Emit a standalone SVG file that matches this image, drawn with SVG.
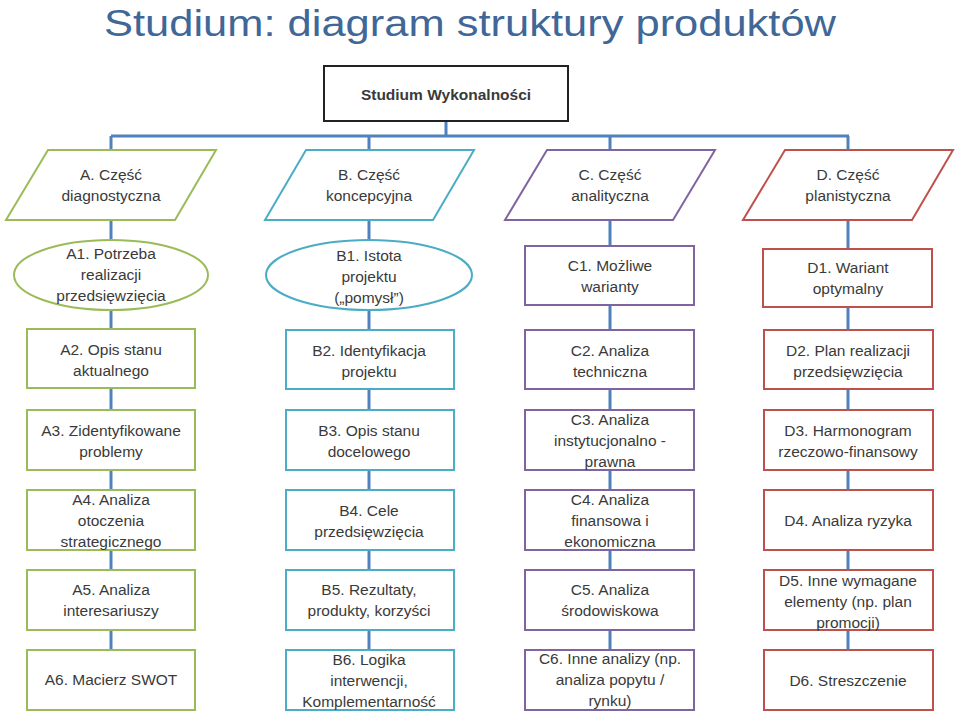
<svg xmlns="http://www.w3.org/2000/svg" width="960" height="716" viewBox="0 0 960 716">
<style>
text{font-family:"Liberation Sans",Arial,sans-serif;font-size:15.5px;fill:#3a3a3a;text-anchor:middle}
.t{font-size:37px;fill:#3f6797;text-anchor:start}
.n{fill:#fff;stroke-width:2}
.a{stroke:#9bbb59}.b{stroke:#4bacc6}.c{stroke:#8064a2}.d{stroke:#c0504d}
.con{stroke:#4f81bd;stroke-width:3;fill:none}
</style>
<rect width="960" height="716" fill="#fff"/>
<text class="t" x="104" y="36" textLength="732" lengthAdjust="spacingAndGlyphs">Studium: diagram struktury produktów</text>
<g id="connectors" class="con">
<path d="M446 121V136M111 136H849M111 136V650M369 136V650M610 136V650M848 136V650"/>
</g>
<g id="top"><rect x="324" y="66" width="244" height="55" fill="#fff" stroke="#222" stroke-width="2"/><text x="446" y="100" style="font-weight:bold">Studium Wykonalności</text></g>
<g id="A"><polygon class="n a" points="48,150 216,150 175,220 6,220"/><text x="111" y="180">A. Część</text><text x="111" y="201">diagnostyczna</text></g>
<g id="B"><polygon class="n b" points="306,150 474,150 433,220 265,220"/><text x="369" y="180">B. Część</text><text x="369" y="201">koncepcyjna</text></g>
<g id="C"><polygon class="n c" points="547,150 715,150 673,220 505,220"/><text x="610" y="180">C. Część</text><text x="610" y="201">analityczna</text></g>
<g id="D"><polygon class="n d" points="785,150 953,150 912,220 743,220"/><text x="848" y="180">D. Część</text><text x="848" y="201">planistyczna</text></g>
<g id="A1"><ellipse class="n a" cx="111" cy="275" rx="97" ry="35"/><text x="111" y="259">A1. Potrzeba</text><text x="111" y="280">realizacji</text><text x="111" y="301">przedsięwzięcia</text></g>
<g id="B1"><ellipse class="n b" cx="369" cy="275" rx="103" ry="35"/><text x="369" y="261">B1. Istota</text><text x="369" y="282">projektu</text><text x="369" y="303">(„pomysł”)</text></g>
<g id="C1"><rect class="n c" x="525" y="246" width="169" height="59"/><text x="610" y="271">C1. Możliwe</text><text x="610" y="292">warianty</text></g>
<g id="D1"><rect class="n d" x="763" y="249" width="169" height="58"/><text x="848" y="273">D1. Wariant</text><text x="848" y="294">optymalny</text></g>
<g id="A2"><rect class="n a" x="27" y="329" width="168" height="59"/><text x="111" y="355">A2. Opis stanu</text><text x="111" y="376">aktualnego</text></g>
<g id="B2"><rect class="n b" x="286" y="330" width="168" height="59"/><text x="369" y="356">B2. Identyfikacja</text><text x="369" y="377">projektu</text></g>
<g id="C2"><rect class="n c" x="525" y="330" width="169" height="59"/><text x="610" y="356">C2. Analiza</text><text x="610" y="377">techniczna</text></g>
<g id="D2"><rect class="n d" x="764" y="330" width="169" height="59"/><text x="848" y="356">D2. Plan realizacji</text><text x="848" y="377">przedsięwzięcia</text></g>
<g id="A3"><rect class="n a" x="27" y="410" width="168" height="60"/><text x="111" y="436">A3. Zidentyfikowane</text><text x="111" y="457">problemy</text></g>
<g id="B3"><rect class="n b" x="286" y="410" width="168" height="60"/><text x="369" y="436">B3. Opis stanu</text><text x="369" y="457">docelowego</text></g>
<g id="C3"><rect class="n c" x="525" y="410" width="169" height="60"/><text x="610" y="425">C3. Analiza</text><text x="610" y="446">instytucjonalno -</text><text x="610" y="467">prawna</text></g>
<g id="D3"><rect class="n d" x="764" y="410" width="169" height="60"/><text x="848" y="436">D3. Harmonogram</text><text x="848" y="457">rzeczowo-finansowy</text></g>
<g id="A4"><rect class="n a" x="27" y="490" width="168" height="60"/><text x="111" y="505">A4. Analiza</text><text x="111" y="526">otoczenia</text><text x="111" y="547">strategicznego</text></g>
<g id="B4"><rect class="n b" x="286" y="490" width="168" height="60"/><text x="369" y="516">B4. Cele</text><text x="369" y="537">przedsięwzięcia</text></g>
<g id="C4"><rect class="n c" x="525" y="490" width="169" height="60"/><text x="610" y="505">C4. Analiza</text><text x="610" y="526">finansowa i</text><text x="610" y="547">ekonomiczna</text></g>
<g id="D4"><rect class="n d" x="764" y="490" width="169" height="60"/><text x="848" y="526">D4. Analiza ryzyka</text></g>
<g id="A5"><rect class="n a" x="27" y="570" width="168" height="60"/><text x="111" y="595">A5. Analiza</text><text x="111" y="616">interesariuszy</text></g>
<g id="B5"><rect class="n b" x="286" y="570" width="168" height="60"/><text x="369" y="595">B5. Rezultaty,</text><text x="369" y="616">produkty, korzyści</text></g>
<g id="C5"><rect class="n c" x="525" y="570" width="169" height="60"/><text x="610" y="595">C5. Analiza</text><text x="610" y="616">środowiskowa</text></g>
<g id="D5"><rect class="n d" x="764" y="570" width="169" height="60"/><text x="848" y="586">D5. Inne wymagane</text><text x="848" y="607">elementy (np. plan</text><text x="848" y="628">promocji)</text></g>
<g id="A6"><rect class="n a" x="27" y="650" width="168" height="60"/><text x="111" y="685">A6. Macierz SWOT</text></g>
<g id="B6"><rect class="n b" x="286" y="650" width="168" height="60"/><text x="369" y="665">B6. Logika</text><text x="369" y="686">interwencji,</text><text x="369" y="707">Komplementarność</text></g>
<g id="C6"><rect class="n c" x="525" y="650" width="169" height="60"/><text x="610" y="664">C6. Inne analizy (np.</text><text x="610" y="685">analiza popytu /</text><text x="610" y="706">rynku)</text></g>
<g id="D6"><rect class="n d" x="764" y="650" width="169" height="60"/><text x="848" y="686">D6. Streszczenie</text></g>
</svg>
